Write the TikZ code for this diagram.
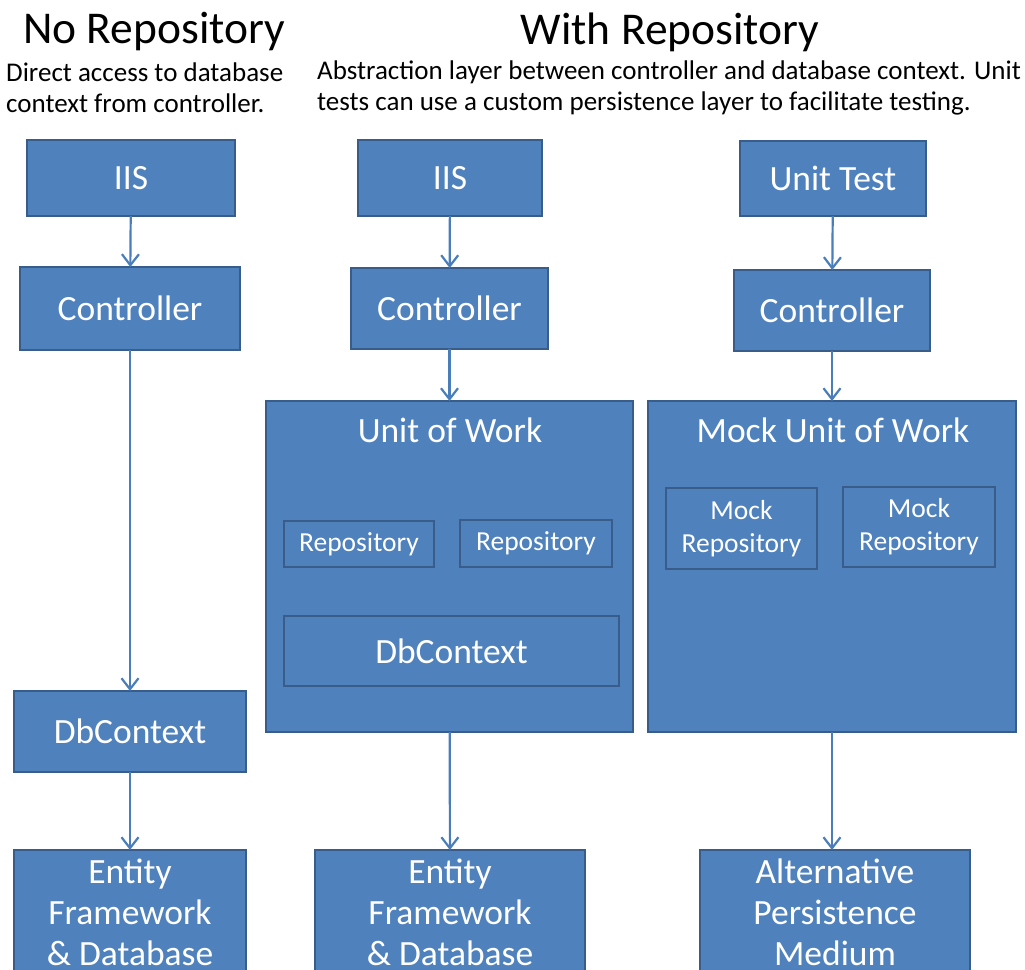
\documentclass[tikz,border=0pt]{standalone}
\usepackage{fontspec}
\setmainfont{Carlito}
\usetikzlibrary{arrows.meta}
\definecolor{boxfill}{HTML}{4F81BD}
\definecolor{boxline}{HTML}{385D8A}
\definecolor{arrowc}{HTML}{4A7EBB}
\tikzset{
  box/.style={draw=boxline, fill=boxfill, line width=2pt, inner sep=0pt, outer sep=0pt,
    text=white, align=center, font=\fontsize{35.5}{41}\selectfont},
  inbox/.style={draw=boxline, line width=2pt, inner sep=0pt, outer sep=0pt,
    text=white, align=center, font=\fontsize{27.5}{33}\selectfont},
  flow/.style={draw=arrowc, line width=2.2pt, -{Straight Barb[length=11pt,width=17pt,line width=2.2pt]}},
  titletxt/.style={inner sep=0pt, font=\fontsize{45.5}{50}\selectfont},
  subtxt/.style={inner sep=0pt, align=left, font=\fontsize{27}{31}\selectfont},
}
\begin{document}
\begin{tikzpicture}[x=1pt,y=-1pt]
\useasboundingbox[fill=white] (0,0) rectangle (1025,969);
% titles
\node[titletxt] (t1) at (154,32) {No Repository};
\node[titletxt] (t2) at (670,32) {With Repository};
\node[subtxt, anchor=west] (s1) at (6,88) {Direct access to database\\context from controller.};
\node[subtxt, anchor=west] (s2) at (317,88) {Abstraction layer between controller and database context. Unit\\tests can use a custom persistence layer to facilitate testing.};
% left column
\node[box, minimum width=208, minimum height=76] (iis1) at (131,178) {IIS};
\node[box, minimum width=220, minimum height=83] (ctl1) at (130,308.5) {Controller};
\node[box, minimum width=232, minimum height=81] (db1) at (130,731.5) {DbContext};
\node[box, minimum width=232, minimum height=124] (ef1) at (130,912) {Entity\\Framework\\\& Database};
\draw[flow] (iis1) -- (ctl1);
\draw[flow] (ctl1) -- (db1);
\draw[flow] (db1) -- (ef1);
% middle column
\node[box, minimum width=184, minimum height=76] (iis2) at (450,178) {IIS};
\node[box, minimum width=197, minimum height=81] (ctl2) at (449.5,308.5) {Controller};
\node[box, minimum width=367, minimum height=331] (uow) at (449.5,566.5) {};
\node[box, draw=none, fill=none] (uowt) at (450,430) {Unit of Work};
\node[inbox, minimum width=150, minimum height=46] (rep1) at (359,544) {Repository};
\node[inbox, minimum width=152, minimum height=47] (rep2) at (536,543.5) {Repository};
\node[inbox, font=\fontsize{35.5}{41}\selectfont, minimum width=335, minimum height=70] (db2) at (451.5,651) {DbContext};
\node[box, minimum width=270, minimum height=124] (ef2) at (450,912) {Entity\\Framework\\\& Database};
\draw[flow] (iis2) -- (ctl2);
\draw[flow] (ctl2) -- (uow);
\draw[flow] (uow) -- (ef2);
% right column
\node[box, minimum width=186, minimum height=75] (ut) at (833,178.5) {Unit Test};
\node[box, minimum width=196, minimum height=81] (ctl3) at (832,310.5) {Controller};
\node[box, minimum width=368, minimum height=331] (muow) at (832,566.5) {};
\node[box, draw=none, fill=none] (muowt) at (833,430) {Mock Unit of Work};
\node[inbox, minimum width=151, minimum height=81] (mrep1) at (741.5,528.5) {Mock\\Repository};
\node[inbox, minimum width=152, minimum height=80] (mrep2) at (919,527) {Mock\\Repository};
\node[box, minimum width=270, minimum height=124] (alt) at (835,912) {Alternative\\Persistence\\Medium};
\draw[flow] (ut) -- (ctl3);
\draw[flow] (ctl3) -- (muow);
\draw[flow] (muow.south) -- (alt.north -| muow.south);
\end{tikzpicture}
\end{document}
